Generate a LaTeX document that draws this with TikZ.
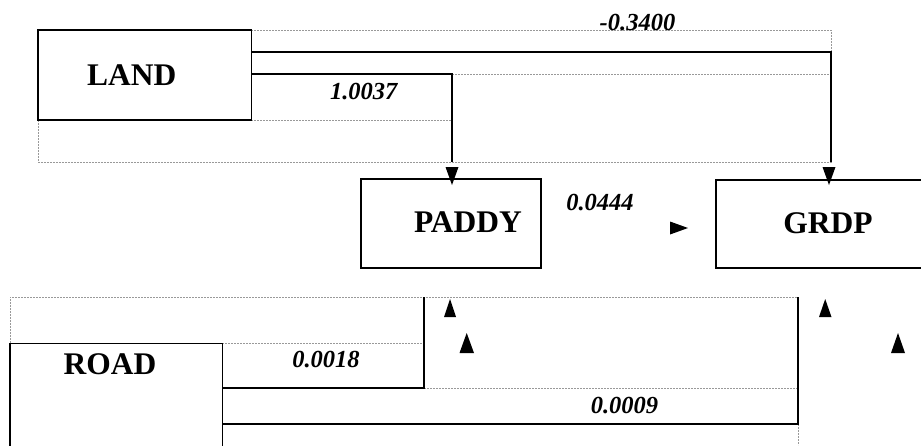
\documentclass[tikz,border=0pt]{standalone}
\usepackage{fontspec}
\setmainfont{Liberation Serif}
\tikzset{
  boxnode/.style={draw=black, line width=1.6pt, inner sep=0pt, fill=white},
  titletext/.style={inner sep=0pt, anchor=base, font=\fontsize{31.5}{36}\selectfont\bfseries},
  coeftext/.style={inner sep=0pt, anchor=base, font=\fontsize{24.5}{28}\selectfont\bfseries\itshape},
  guide/.style={draw=black!40, line width=0.6pt, dash pattern=on 2pt off 1pt},
  link/.style={draw=black, line width=1.6pt},
  tri/.style={fill=black}
}
\begin{document}
\begin{tikzpicture}[x=1pt,y=-1pt]
\useasboundingbox (0,0) rectangle (921,445);
\clip (0,0) rectangle (921,445);
\fill[white] (0,0) rectangle (921,445);

% dashed guide frames
\draw[guide] (251,30) -- (831,30) -- (831,162) -- (38,162) -- (38,120);
\draw[guide] (251,120) -- (452,120);
\draw[guide] (452,74) -- (831,74);
\draw[guide] (10,343) -- (10,297) -- (798,297);
\draw[guide] (222,343) -- (424,343);
\draw[guide] (424,388) -- (798,388);
\draw[guide] (798,424) -- (798,445);

% boxes
\node[boxnode, minimum width=213.5pt, minimum height=90pt] (land) at (144.75,75) {};
\node[boxnode, minimum width=180pt, minimum height=88.7pt] (paddy) at (451,223.6) {};
\node[boxnode, minimum width=284pt, minimum height=88pt] (grdp) at (858,224) {};
\node[boxnode, minimum width=212.3pt, minimum height=156.6pt] (road) at (116.15,421.6) {};

% titles
\node[titletext] (tland) at (131.7,85) {LAND};
\node[titletext] (tpaddy) at (468,232.7) {PADDY};
\node[titletext] (tgrdp) at (828,233) {GRDP};
\node[titletext] (troad) at (110,374) {ROAD};

% connector coordinates
\coordinate (a1) at (831,52);
\coordinate (a2) at (831,162);
\coordinate (b1) at (452,74);
\coordinate (b2) at (452,162);
\coordinate (c1) at (424,388);
\coordinate (c2) at (424,297);
\coordinate (d1) at (798,424);
\coordinate (d2) at (798,297);

% connectors
\draw[link] (land.east |- a1) -- (a1) -- (a2);
\draw[link] (land.east |- b1) -- (b1) -- (b2);
\draw[link] (road.east |- c1) -- (c1) -- (c2);
\draw[link] (road.east |- d1) -- (d1) -- (d2);

% arrowheads
\fill[tri] (445.5,167) -- (458.5,167) -- (452,185) -- cycle;
\fill[tri] (822.5,167) -- (835.5,167) -- (829,185) -- cycle;
\fill[tri] (670,221.5) -- (670,234.5) -- (688,228) -- cycle;
\fill[tri] (444,317) -- (456,317) -- (450,299) -- cycle;
\fill[tri] (459.5,353) -- (474,353) -- (466.7,333) -- cycle;
\fill[tri] (819,317) -- (831.5,317) -- (825.2,299) -- cycle;
\fill[tri] (891,353) -- (905,353) -- (898,333) -- cycle;

% coefficients
\node[coeftext] (k1) at (637.5,30.5) {-0.3400};
\node[coeftext] (k2) at (363.7,99.3) {1.0037};
\node[coeftext] (k3) at (600,210) {0.0444};
\node[coeftext] (k4) at (326,367) {0.0018};
\node[coeftext] (k5) at (624.5,413) {0.0009};
\end{tikzpicture}
\end{document}
